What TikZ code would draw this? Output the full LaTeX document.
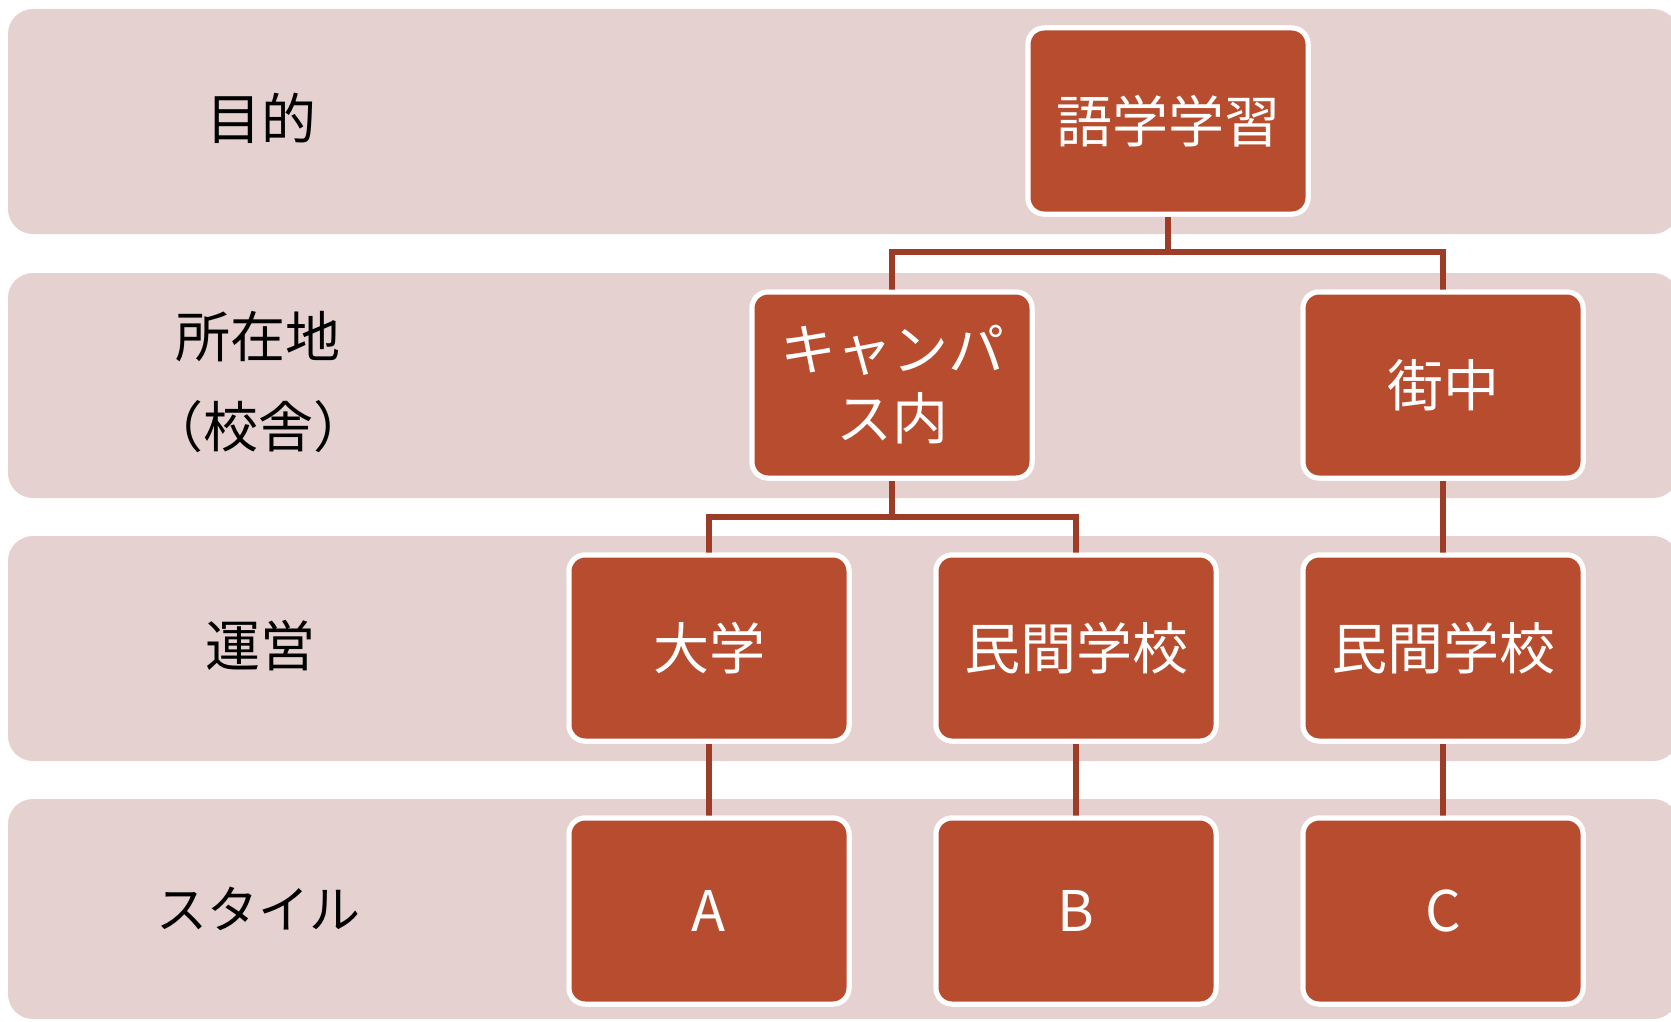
\documentclass[tikz,border=0pt]{standalone}
\usepackage{fontspec}
\setmainfont{Noto Sans CJK JP}
\definecolor{bandc}{HTML}{E5D1CF}
\definecolor{boxc}{HTML}{B84C2E}
\definecolor{linec}{HTML}{9E3D27}
\begin{document}
\begin{tikzpicture}[x=1pt,y=-1pt,
  band/.style={fill=bandc, rounded corners=25pt},
  org/.style={rectangle, rounded corners=16pt, fill=boxc, draw=white, line width=5pt,
    minimum width=280pt, minimum height=186pt, inner sep=0pt, text=white,
    font=\fontsize{56}{69}\selectfont, align=center},
  lab/.style={font=\fontsize{55}{90}\selectfont, align=center, text=black},
  conn/.style={draw=linec, line width=6pt}]
\useasboundingbox (0,0) rectangle (1671,1022);
\clip (0,0) rectangle (1671,1022);
% bands
\fill[band] (8,9) rectangle (1678,234);
\fill[band] (8,273) rectangle (1678,498);
\fill[band] (8,536) rectangle (1678,761);
\fill[band] (8,799) rectangle (1678,1019);
% labels
\node[lab] (l1) at (261,118) {目的};
\node[lab] (l2) at (258,382) {所在地\\（校舎）};
\node[lab] (l3) at (260,646) {運営};
\node[lab, font=\fontsize{51}{60}\selectfont] (l4) at (258,909) {スタイル};
% junction coordinates
\coordinate (j1) at (0,252);
\coordinate (j2) at (0,517);
% boxes
\node[org] (top) at (1168,121) {};
\node[org] (campus) at (892,385) {};
\node[org] (machi) at (1443,385) {};
\node[org] (univ) at (709,648) {};
\node[org] (priv1) at (1076,648) {};
\node[org] (priv2) at (1443,648) {};
\node[org] (sa) at (709,911) {};
\node[org] (sb) at (1076,911) {};
\node[org] (sc) at (1443,911) {};
% connectors
\draw[conn] (top.south) -- (top.south |- j1) -| (campus.north);
\draw[conn] (top.south |- j1) -| (machi.north);
\draw[conn] (campus.south) -- (campus.south |- j2) -| (univ.north);
\draw[conn] (campus.south |- j2) -| (priv1.north);
\draw[conn] (machi.south) -- (priv2.north);
\draw[conn] (univ.south) -- (sa.north);
\draw[conn] (priv1.south) -- (sb.north);
\draw[conn] (priv2.south) -- (sc.north);
% redraw boxes with text on top
\node[org] at (top) {語学学習};
\node[org] at (campus) {キャンパ\\ス内};
\node[org] at (machi) {街中};
\node[org] at (univ) {大学};
\node[org] at (priv1) {民間学校};
\node[org] at (priv2) {民間学校};
\node[org] at (sa) {A};
\node[org] at (sb) {B};
\node[org] at (sc) {C};
\end{tikzpicture}
\end{document}
